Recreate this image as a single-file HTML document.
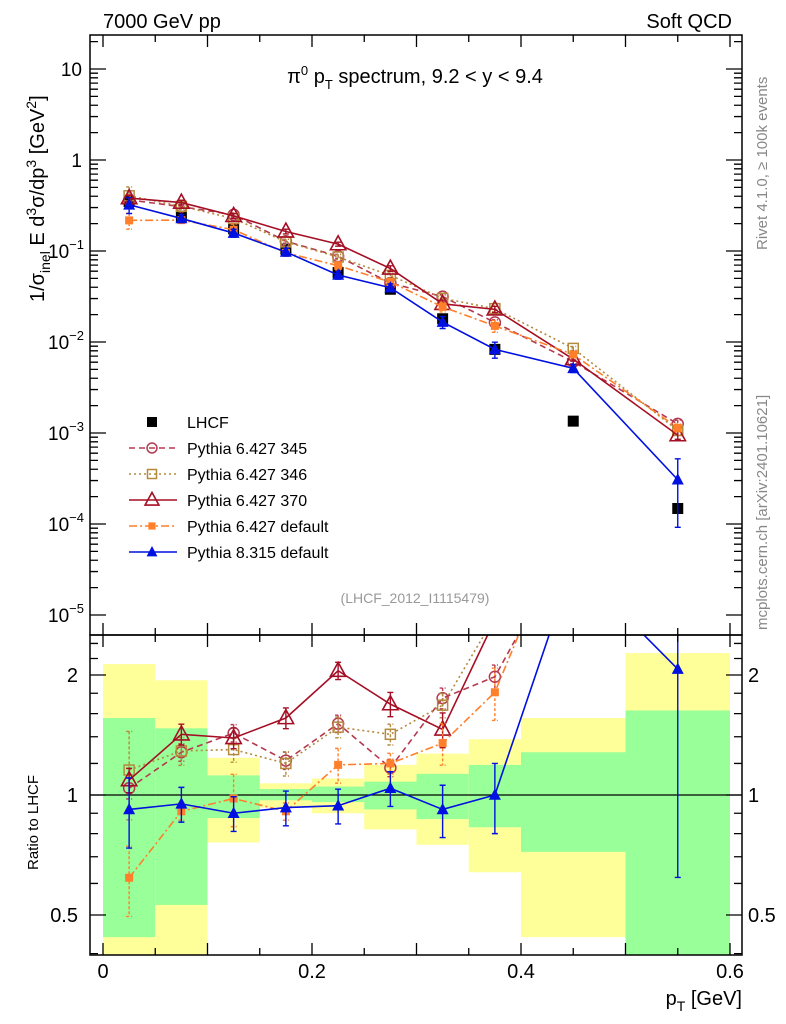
<!DOCTYPE html>
<html><head><meta charset="utf-8">
<style>
html,body{margin:0;padding:0;background:#fff;}
svg{display:block;font-family:"Liberation Sans",sans-serif;}
</style></head>
<body>
<svg id="c" width="786" height="1024" viewBox="0 0 786 1024" xmlns="http://www.w3.org/2000/svg">
<defs>
<clipPath id="clipMain"><rect x="90" y="35" width="652" height="600"/></clipPath>
<clipPath id="clipRatio"><rect x="90" y="635" width="652" height="320"/></clipPath>
</defs>
<text x="103" y="28" font-size="20">7000 GeV pp</text>
<text x="732" y="28" font-size="20" text-anchor="end">Soft QCD</text>
<text x="415" y="83" font-size="20" text-anchor="middle">π<tspan dy="-8" font-size="13">0</tspan><tspan dy="8"> p</tspan><tspan dy="6" font-size="13">T</tspan><tspan dy="-6"> spectrum, 9.2 &lt; y &lt; 9.4</tspan></text>
<text x="415" y="603" font-size="14" fill="#999" text-anchor="middle">(LHCF_2012_I1115479)</text>
<text transform="translate(767,250) rotate(-90)" font-size="15" fill="#888">Rivet 4.1.0, ≥ 100k events</text>
<text transform="translate(767,630) rotate(-90)" font-size="15" fill="#888">mcplots.cern.ch [arXiv:2401.10621]</text>
<text transform="translate(44,302) rotate(-90)" font-size="20">1/σ<tspan dy="6" font-size="14">inel</tspan><tspan dy="-6"> E d</tspan><tspan dy="-8" font-size="14">3</tspan><tspan dy="8">σ/dp</tspan><tspan dy="-8" font-size="14">3</tspan><tspan dy="8"> [GeV</tspan><tspan dy="-8" font-size="14">2</tspan><tspan dy="8">]</tspan></text>
<text transform="translate(38,870) rotate(-90)" font-size="15">Ratio to LHCF</text>
<text x="742" y="1005" font-size="20" text-anchor="end">p<tspan dy="6" font-size="14">T</tspan><tspan dy="-6"> [GeV]</tspan></text>
<g id="ratioBands" clip-path="url(#clipRatio)"></g>
<g id="mainMarks" clip-path="url(#clipMain)"></g>
<g id="ratioMarks" clip-path="url(#clipRatio)"></g>
<g id="axes"></g>
<g id="legend"></g>
</svg>
<script>
const binEdges=[0,0.05,0.1,0.15,0.2,0.25,0.3,0.35,0.4,0.5,0.6];
const xCenters=[0.025,0.075,0.125,0.175,0.225,0.275,0.325,0.375,0.45,0.55];
const lhcfValues=[0.35,0.24,0.175,0.105,0.058,0.038,0.018,0.0083,0.00135,0.000148];
const bandStatHi=[1.56,1.47,1.12,1.035,1.05,1.08,1.13,1.19,1.28,1.63];
const bandStatLo=[0.44,0.53,0.875,0.97,0.96,0.92,0.87,0.83,0.72,0.2];
const bandTotHi=[2.13,1.94,1.24,1.07,1.10,1.19,1.27,1.38,1.56,2.27];
const bandTotLo=[0.2,0.2,0.76,0.93,0.90,0.82,0.75,0.64,0.44,0.2];
const ratio345=[1.04,1.28,1.43,1.22,1.51,1.17,1.75,1.98,4.5,8.5];
const err345=[0.06,0.05,0.05,0.05,0.05,0.05,0.06,0.07,0.05,0.1];
const ratio346=[1.155,1.29,1.30,1.20,1.48,1.42,1.68,2.8,6.3,7.2];
const err346=[0.25,0.08,0.07,0.07,0.06,0.06,0.07,0.07,0.05,0.1];
const ratio370=[1.09,1.42,1.39,1.56,2.05,1.69,1.46,2.75,4.8,6.4];
const err370=[0.07,0.06,0.06,0.06,0.05,0.07,0.1,0.08,0.05,0.1];
const ratioDef6=[0.62,0.91,0.98,0.91,1.19,1.20,1.35,1.81,5.4,7.7];
const errDef6=[0.2,0.05,0.15,0.05,0.1,0.06,0.12,0.15,0.05,0.1];
const ratioP8=[0.92,0.95,0.90,0.93,0.94,1.04,0.92,1.0,3.8,2.07];
const errP8=[0.2,0.1,0.1,0.1,0.1,0.1,0.15,0.2,0.1,0.7];
const mainYTicks=["10⁻⁵","10⁻⁴","10⁻³","10⁻²","10⁻¹","1","10"];
const ratioYTicks=[0.5,1,2];
const xTickLabels=[0,0.2,0.4,0.6];

const NS="http://www.w3.org/2000/svg";
const X0=103,XS=1045;
function sx(v){return X0+v*XS;}
function syMain(v){return 160-91*Math.log10(v);}
function syRatio(r){return 795-120*Math.log2(r);}
function mk(tag,attrs,parent){const e=document.createElementNS(NS,tag);for(const k in attrs)e.setAttribute(k,attrs[k]);parent.appendChild(e);return e;}
const bands=document.getElementById('ratioBands');
const mainG=document.getElementById('mainMarks');
const ratG=document.getElementById('ratioMarks');
const axes=document.getElementById('axes');
const leg=document.getElementById('legend');

for(let i=0;i<xCenters.length;i++){
  const x1=sx(binEdges[i]),x2=sx(binEdges[i+1]);
  const y=mk('rect',{x:x1,y:syRatio(bandTotHi[i]),width:x2-x1,height:syRatio(bandTotLo[i])-syRatio(bandTotHi[i]),fill:'#ffff99'},bands);
  
  
  const g=mk('rect',{x:x1,y:syRatio(bandStatHi[i]),width:x2-x1,height:syRatio(bandStatLo[i])-syRatio(bandStatHi[i]),fill:'#99ff99'},bands);
  
  
}
const one=mk('line',{x1:90,x2:742,y1:syRatio(1),y2:syRatio(1),stroke:'#000','stroke-width':1.3},ratG);



function marker(g,type,x,y,color,size){
  let e;
  if(type==='sqf'){e=mk('rect',{x:x-size/2,y:y-size/2,width:size,height:size,fill:color},g);}
  else if(type==='sqo'){e=mk('rect',{x:x-size/2,y:y-size/2,width:size,height:size,fill:'none',stroke:color,'stroke-width':1.5},g);}
  else if(type==='co'){e=mk('circle',{cx:x,cy:y,r:size/2,fill:'none',stroke:color,'stroke-width':1.5},g);}
  else if(type==='to'){e=mk('polygon',{points:`${x},${y-size*0.6} ${x-size*0.55},${y+size*0.4} ${x+size*0.55},${y+size*0.4}`,fill:'none',stroke:color,'stroke-width':1.6},g);}
  else {e=mk('polygon',{points:`${x},${y-size*0.55} ${x-size*0.5},${y+size*0.4} ${x+size*0.5},${y+size*0.4}`,fill:color},g);}
  return e;
}
const series=[
 {name:'Pythia 6.427 345',key:'p6-345',r:ratio345,e:err345,color:'#b5384f',dash:'6,4',m:'co',s:11},
 {name:'Pythia 6.427 346',key:'p6-346',r:ratio346,e:err346,color:'#b38a3c',dash:'2,3',m:'sqo',s:10},
 {name:'Pythia 6.427 370',key:'p6-370',r:ratio370,e:err370,color:'#a50f25',dash:'',m:'to',s:14},
 {name:'Pythia 6.427 default',key:'p6-default',r:ratioDef6,e:errDef6,color:'#ff7f2a',dash:'8,3,2,3',m:'sqf',s:8},
 {name:'Pythia 8.315 default',key:'p8-default',r:ratioP8,e:errP8,color:'#0010e0',dash:'',m:'tf',s:12}
];
function drawSeries(s){
  [['main',mainG,(i)=>syMain(lhcfValues[i]*s.r[i]),(i,sgn)=>syMain(lhcfValues[i]*s.r[i]*(1+sgn*s.e[i]))],
   ['ratio',ratG,(i)=>syRatio(s.r[i]),(i,sgn)=>syRatio(s.r[i]*(1+sgn*s.e[i]))]].forEach(([pan,g,fy,fe])=>{
    const pts=xCenters.map((x,i)=>sx(x)+','+fy(i)).join(' ');
    const pl=mk('polyline',{points:pts,fill:'none',stroke:s.color,'stroke-width':1.6,'stroke-dasharray':s.dash},g);
    
    
    xCenters.forEach((x,i)=>{
      const px=sx(x);
      const eb=mk('path',{d:`M${px},${fe(i,1)}V${fe(i,-1)}M${px-3},${fe(i,1)}h6M${px-3},${fe(i,-1)}h6`,stroke:s.color,'stroke-width':1.4,fill:'none','stroke-dasharray':s.dash?'3,2':''},g);
      
      
      const m=marker(g,s.m,px,fy(i),s.color,s.s);
      
      
    });
  });
}
xCenters.forEach((x,i)=>{
  const m=marker(mainG,'sqf',sx(x),syMain(lhcfValues[i]),'#000',11);
  
  
});
series.forEach(drawSeries);

const f1=mk('rect',{x:90,y:35,width:652,height:600,fill:'none',stroke:'#000','stroke-width':1.5},axes);


const f2=mk('rect',{x:90,y:635,width:652,height:320,fill:'none',stroke:'#000','stroke-width':1.5},axes);


let d='';
for(let k=0;k<=12;k++){const v=k*0.05;const x=sx(v);const L=(k%2===0)?12:7;
  d+=`M${x},35v${L}M${x},635v${-L}M${x},635v${L}M${x},955v${-L}`;}
for(let e=-5;e<=1;e++){for(let m=1;m<10;m++){const v=m*Math.pow(10,e);const y=syMain(v);if(y<35||y>635)continue;const L=m===1?16:8;d+=`M90,${y}h${L}M742,${y}h${-L}`;}}
const yMajors=[-5,-4,-3,-2,-1,0,1];
const rTicks=[0.4,0.5,0.6,0.7,0.8,0.9,1,1.2,1.4,1.6,1.8,2,2.2,2.4];
rTicks.forEach(r=>{const y=syRatio(r);const L=(r===0.5||r===1||r===2)?16:8;d+=`M90,${y}h${L}M742,${y}h${-L}`;});
const tk=mk('path',{d:d,stroke:'#000','stroke-width':1.3,fill:'none'},axes);


mainYTicks.forEach((t,i)=>{
  const e=yMajors[i];const y=syMain(Math.pow(10,e));
  let tx;
  if(e>=0){tx=mk('text',{x:82,y:y+7,'font-size':19,'text-anchor':'end'},axes);tx.textContent=t;}
  else{tx=mk('text',{x:84,y:y+7,'font-size':19,'text-anchor':'end'},axes);
    const b=mk('tspan',{},tx);b.textContent='10';const s2=mk('tspan',{dy:-9,'font-size':13},tx);s2.textContent='−'+(-e);}
  
  
});
ratioYTicks.forEach(r=>{
  const y=syRatio(r);
  const a=mk('text',{x:78,y:y+7,'font-size':20,'text-anchor':'end'},axes);a.textContent=r;
  
  
  const b=mk('text',{x:748,y:y+7,'font-size':20},axes);b.textContent=r;
  
  
});
xTickLabels.forEach(v=>{
  const t=mk('text',{x:sx(v),y:978,'font-size':20,'text-anchor':'middle'},axes);t.textContent=v;
  
  
});
const ly0=422,lstep=26;
const l0=marker(leg,'sqf',152,ly0,'#000',10);


const lt0=mk('text',{x:187,y:ly0+6,'font-size':16},leg);lt0.textContent='LHCF';


series.forEach((s,i)=>{
  const y=ly0+(i+1)*lstep;
  const ln=mk('line',{x1:129,x2:177,y1:y,y2:y,stroke:s.color,'stroke-width':1.6,'stroke-dasharray':s.dash},leg);
  
  
  const m=marker(leg,s.m,152,y,s.color,s.s*0.9);
  
  
  const t=mk('text',{x:187,y:y+6,'font-size':16},leg);t.textContent=s.name;
  
  
});
</script>
</body></html>
